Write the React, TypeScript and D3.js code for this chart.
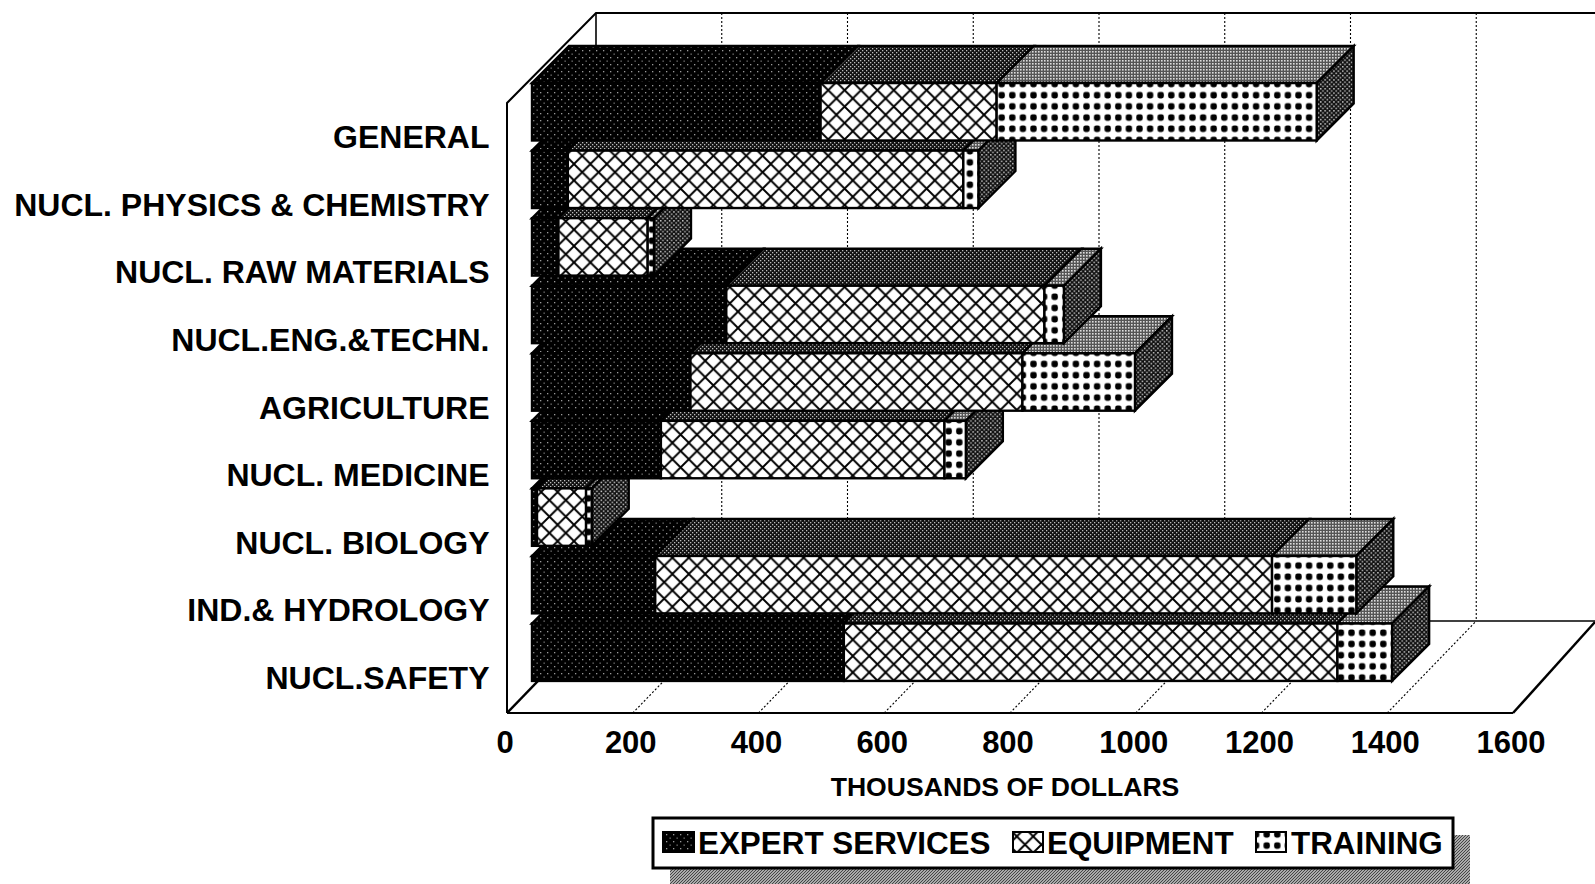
import React from "react";
import * as d3 from "d3";

const categories = ["GENERAL","NUCL. PHYSICS & CHEMISTRY","NUCL. RAW MATERIALS","NUCL.ENG.&TECHN.","AGRICULTURE","NUCL. MEDICINE","NUCL. BIOLOGY","IND.& HYDROLOGY","NUCL.SAFETY"];
const seriesNames = ["EXPERT SERVICES","EQUIPMENT","TRAINING"];
const expert = [459,57,42,309,252,205,8,196,496];
const equipment = [280,629,142,506,528,451,78,981,785];
const training = [509,24,10,31,179,34,9,134,87];
const xTicks = [0,200,400,600,800,1000,1200,1400,1600];

const FONT = "'Liberation Sans', Arial, sans-serif";
const x = d3.scaleLinear().domain([0,1600]).range([507,1513]);
const labelY = d3.scaleBand<string>().domain(categories).range([103,711]);
const barY = d3.scaleBand<string>().domain(categories).range([78,686]).paddingInner(0.15).paddingOuter(0.075);
const wallDx = 89, wallDy = 92, top = 13;
const frontDx = 25, barDepthX = 37, barDepthY = 37;
const fillsFront = ["url(#pExpert)","url(#pEquip)","url(#pTrain)"];
const fillsTop = ["url(#pExpert)","url(#pTopEquip)","url(#pTopTrain)"];

const poly = (pts:[number,number][]) => pts.map(p=>p.join(",")).join(" ");

export default function App(){
  const sers = [expert,equipment,training];
  const stack = d3.stack<any>().keys(["0","1","2"]).value((d,k)=>d[+k]);
  const rows = categories.map((_,i)=>sers.map(s=>s[i]));
  const stacked = stack(rows as any);
  const order = categories.map((_,i)=>i).reverse();
  const bx = (v:number)=>x(v)+frontDx;
  return (
    <svg width={1595} height={884} style={{position:"absolute",left:0,top:0,background:"#fff"}} fontFamily={FONT} fontWeight="bold">
      <defs>
        <pattern id="pExpert" patternUnits="userSpaceOnUse" width={7} height={7}>
          <rect width={7} height={7} fill="#000"/>
          <rect x={1} y={1} width={1.3} height={1.3} fill="#999"/>
          <rect x={4.5} y={4.5} width={1.3} height={1.3} fill="#777"/>
        </pattern>
        <pattern id="pEquip" patternUnits="userSpaceOnUse" width={16.4} height={16.4}>
          <rect width={16.4} height={16.4} fill="#fff"/>
          <path d="M0 0L16.4 16.4M16.4 0L0 16.4" stroke="#000" strokeWidth={1.9}/>
        </pattern>
        <pattern id="pTrain" patternUnits="userSpaceOnUse" width={10.6} height={11.2}>
          <rect width={10.6} height={11.2} fill="#fff"/>
          <rect x={2.1} y={2.4} width={6.4} height={6.4} rx={2.2} fill="#000"/>
        </pattern>
        <pattern id="pTopEquip" patternUnits="userSpaceOnUse" width={4} height={4}>
          <rect width={4} height={4} fill="#111"/>
          <rect x={0} y={0} width={1.3} height={1.3} fill="#bbb"/>
          <rect x={2} y={2} width={1.3} height={1.3} fill="#bbb"/>
        </pattern>
        <pattern id="pTopTrain" patternUnits="userSpaceOnUse" width={3} height={3}>
          <rect width={3} height={3} fill="#555"/>
          <rect x={0} y={0} width={1.6} height={1.6} fill="#ddd"/>
        </pattern>
        <pattern id="pSide" patternUnits="userSpaceOnUse" width={4.4} height={4.4}>
          <rect width={4.4} height={4.4} fill="#111"/>
          <rect x={0} y={0} width={1.5} height={1.5} fill="#c4c4c4"/>
          <rect x={2.2} y={2.2} width={1.5} height={1.5} fill="#c4c4c4"/>
        </pattern>
        <pattern id="pShadow" patternUnits="userSpaceOnUse" width={3} height={3}>
          <rect width={3} height={3} fill="#aaa"/>
          <path d="M0 3L3 0" stroke="#444" strokeWidth={1}/>
        </pattern>
      </defs>

      {/* walls and floor */}
      <g fill="none" stroke="#000">
        <polyline points={poly([[507,713],[507,103],[x(0)+wallDx,top],[1595,top]])} strokeWidth={2}/>
        <line x1={x(0)+wallDx} x2={x(0)+wallDx} y1={top} y2={713-wallDy} strokeWidth={1.6}/>
        <line x1={507} x2={1513} y1={713} y2={713} strokeWidth={2}/>
        <line x1={x(0)+wallDx} x2={1595} y1={713-wallDy} y2={713-wallDy} strokeWidth={1.6}/>
        <line x1={507} y1={713} x2={x(0)+wallDx} y2={713-wallDy} strokeWidth={2.5}/>
        <line x1={x(1600)} y1={713} x2={1595} y2={713-wallDy+1} strokeWidth={2.5}/>
        {xTicks.slice(1,-1).map(t=>(
          <g key={t} strokeDasharray="2 2" strokeWidth={1.1}>
            <line x1={x(t)+wallDx} x2={x(t)+wallDx} y1={top} y2={713-wallDy}/>
            <line x1={x(t)} y1={713} x2={x(t)+wallDx} y2={713-wallDy}/>
          </g>
        ))}
      </g>

      {/* bars: nearest row first so upper rows overlap it */}
      {order.map(i=>{
        const c = categories[i];
        const y0 = barY(c)!, h = barY.bandwidth();
        const end = stacked[2][i][1];
        return (
          <g key={c} stroke="#000" strokeWidth={2.4} strokeLinejoin="miter">
            {stacked.map((s,k)=>{
              const a=bx(s[i][0]), b=bx(s[i][1]);
              return <polygon key={k} fill={fillsTop[k]} points={poly([[a,y0],[b,y0],[b+barDepthX,y0-barDepthY],[a+barDepthX,y0-barDepthY]])}/>;
            })}
            <polygon fill="url(#pSide)" points={poly([[bx(end),y0],[bx(end)+barDepthX,y0-barDepthY],[bx(end)+barDepthX,y0+h-barDepthY],[bx(end),y0+h]])}/>
            {stacked.map((s,k)=>{
              const a=bx(s[i][0]), b=bx(s[i][1]);
              return <rect key={k} x={a} y={y0} width={b-a} height={h} fill={fillsFront[k]}/>;
            })}
          </g>
        );
      })}

      {/* category labels */}
      <g textAnchor="end" fontSize={32}>
        {categories.map(c=>(
          <text key={c} x={489.5} y={labelY(c)!+labelY.bandwidth()/2+11.5}>{c}</text>
        ))}
      </g>
      {/* x axis labels */}
      <g textAnchor="middle" fontSize={31}>
        {xTicks.map(t=><text key={t} x={x(t)-2} y={753}>{t}</text>)}
      </g>
      <text x={1005} y={796} textAnchor="middle" fontSize={26.6}>THOUSANDS OF DOLLARS</text>

      {/* legend */}
      <rect x={670} y={835} width={800} height={49} fill="url(#pShadow)"/>
      <rect x={653} y={818} width={800} height={50} fill="#fff" stroke="#000" strokeWidth={3}/>
      <g stroke="#000" strokeWidth={2}>
        <rect x={663} y={832} width={31} height={20} fill="url(#pExpert)"/>
        <rect x={1013} y={832} width={30} height={20} fill="url(#pEquip)"/>
        <rect x={1256} y={832} width={30} height={20} fill="url(#pTrain)"/>
      </g>
      <g fontSize={31.4}>
        <text x={698} y={854}>{seriesNames[0]}</text>
        <text x={1047} y={854}>{seriesNames[1]}</text>
        <text x={1291} y={854}>{seriesNames[2]}</text>
      </g>
    </svg>
  );
}
